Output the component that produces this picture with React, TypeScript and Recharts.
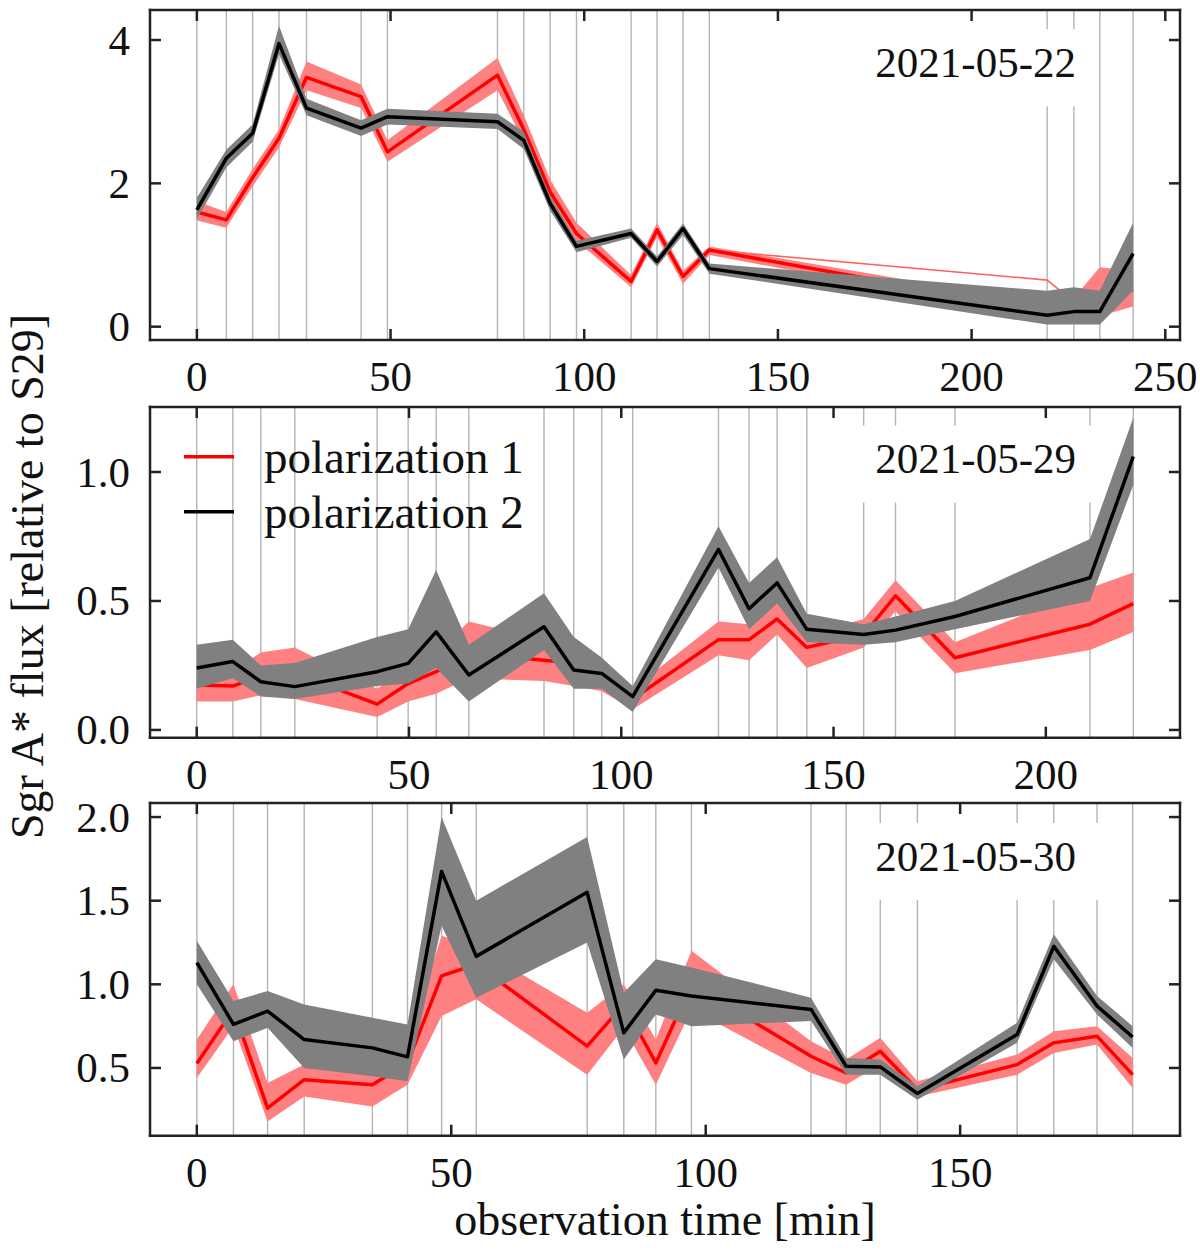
import React from 'react';
import { ComposedChart, Line, Area, XAxis, YAxis, ReferenceLine } from 'recharts';

const FONT = '"Liberation Serif", "Times New Roman", serif';
const RED = '#ff0000';
const RED_BAND = '#ff8080';
const GRAY_BAND = '#808080';
const FRAME = '#222222';
const SCAN = '#b4b4b4';

// 2021-05-22
const t22 = [0, 7.6, 14.4, 21.2, 28.3, 42.4, 49.2, 77.6, 84.4, 91.2, 98.0, 112.1, 118.8, 125.5, 132.3, 219.5, 226.4, 233.1, 241.7];
const pol1_22 = [1.6, 1.49, 2.08, 2.63, 3.48, 3.21, 2.44, 3.51, 2.75, 1.88, 1.3, 0.63, 1.35, 0.7, 1.07, 0.22, 0.25, 0.38, 0.52];
const pol1Lo_22 = [1.48, 1.38, 1.96, 2.5, 3.3, 3.05, 2.3, 3.3, 2.58, 1.75, 1.2, 0.55, 1.25, 0.6, 1.0, 0.12, 0.15, 0.15, 0.28];
const pol1Hi_22 = [1.75, 1.6, 2.2, 2.75, 3.7, 3.38, 2.6, 3.75, 2.95, 2.05, 1.45, 0.72, 1.45, 0.78, 1.12, 0.32, 0.4, 0.83, 0.78];
const pol1Stray_22 = [null, null, null, null, null, null, null, null, null, null, null, null, null, null, 1.07, 0.65, 0.35, null, null];
const pol2_22 = [1.63, 2.35, 2.7, 3.95, 3.05, 2.77, 2.93, 2.86, 2.6, 1.72, 1.12, 1.3, 0.91, 1.37, 0.81, 0.16, 0.21, 0.21, 1.02];
const pol2Lo_22 = [1.5, 2.22, 2.58, 3.8, 2.95, 2.66, 2.82, 2.76, 2.48, 1.62, 1.04, 1.24, 0.84, 1.28, 0.74, 0.03, 0.03, 0.03, 0.5];
const pol2Hi_22 = [1.8, 2.47, 2.82, 4.2, 3.18, 2.88, 3.04, 2.97, 2.72, 1.82, 1.2, 1.37, 0.98, 1.44, 0.88, 0.5, 0.55, 0.5, 1.45];

// 2021-05-29
const t29 = [0, 8.5, 15.1, 23.1, 42.5, 49.8, 56.4, 64.1, 81.8, 88.8, 95.4, 102.7, 122.9, 130.1, 136.7, 143.7, 157.1, 164.6, 178.6, 210.4, 220.6];
const pol1_29 = [0.174, 0.17, 0.21, 0.22, 0.1, 0.18, 0.226, 0.3, 0.27, 0.26, 0.21, 0.12, 0.35, 0.35, 0.43, 0.32, 0.37, 0.52, 0.28, 0.41, 0.49];
const pol1Lo_29 = [0.11, 0.11, 0.135, 0.12, 0.05, 0.11, 0.14, 0.2, 0.19, 0.17, 0.15, 0.08, 0.29, 0.27, 0.37, 0.24, 0.32, 0.46, 0.22, 0.31, 0.38];
const pol1Hi_29 = [0.24, 0.23, 0.3, 0.32, 0.16, 0.25, 0.3, 0.42, 0.35, 0.36, 0.28, 0.16, 0.42, 0.41, 0.5, 0.37, 0.43, 0.58, 0.34, 0.55, 0.61];
const pol2_29 = [0.24, 0.265, 0.187, 0.168, 0.226, 0.258, 0.38, 0.213, 0.4, 0.232, 0.219, 0.129, 0.7, 0.47, 0.57, 0.39, 0.37, 0.387, 0.44, 0.59, 1.06];
const pol2Lo_29 = [0.16, 0.2, 0.13, 0.12, 0.17, 0.18, 0.24, 0.11, 0.31, 0.16, 0.16, 0.07, 0.63, 0.39, 0.49, 0.34, 0.33, 0.34, 0.39, 0.5, 0.95];
const pol2Hi_29 = [0.33, 0.35, 0.25, 0.26, 0.36, 0.39, 0.62, 0.33, 0.53, 0.36, 0.28, 0.17, 0.79, 0.57, 0.67, 0.45, 0.41, 0.44, 0.5, 0.74, 1.21];

// 2021-05-30
const t30 = [0, 7.2, 13.9, 21.1, 34.5, 41.4, 48.1, 54.9, 76.7, 83.9, 90.2, 97.2, 120.7, 127.6, 134.3, 141.6, 161.2, 168.4, 176.9, 183.9];
const pol1_30 = [0.526, 0.85, 0.26, 0.43, 0.4, 0.53, 1.05, 1.12, 0.63, 0.88, 0.53, 1.0, 0.57, 0.47, 0.6, 0.37, 0.52, 0.65, 0.69, 0.46];
const pol1Lo_30 = [0.44, 0.75, 0.18, 0.33, 0.27, 0.4, 0.81, 0.91, 0.46, 0.74, 0.4, 0.85, 0.47, 0.4, 0.52, 0.33, 0.46, 0.59, 0.64, 0.38];
const pol1Hi_30 = [0.67, 1.0, 0.41, 0.52, 0.48, 0.65, 1.29, 1.22, 0.83, 1.0, 0.67, 1.2, 0.66, 0.55, 0.68, 0.42, 0.58, 0.72, 0.75, 0.56];
const pol2_30 = [1.13, 0.76, 0.84, 0.67, 0.62, 0.566, 1.675, 1.167, 1.55, 0.71, 0.964, 0.93, 0.85, 0.51, 0.506, 0.347, 0.7, 1.227, 0.87, 0.685];
const pol2Lo_30 = [1.0, 0.66, 0.74, 0.5, 0.45, 0.42, 1.35, 0.92, 1.25, 0.55, 0.82, 0.75, 0.78, 0.46, 0.46, 0.31, 0.65, 1.15, 0.82, 0.62];
const pol2Hi_30 = [1.26, 0.9, 0.96, 0.88, 0.8, 0.76, 2.0, 1.5, 1.88, 0.95, 1.15, 1.1, 0.92, 0.56, 0.55, 0.39, 0.77, 1.3, 0.93, 0.75];

const xTicks22 = [0, 50, 100, 150, 200, 250];
const xTicks29 = [0, 50, 100, 150, 200];
const xTicks30 = [0, 50, 100, 150];
const yTicks22 = [0, 2, 4];
const yTicks29 = [0, 0.5, 1.0];
const yTicks30 = [0.5, 1.0, 1.5, 2.0];

const dates = ['2021-05-22', '2021-05-29', '2021-05-30'];
const legendLabels = ['polarization 1', 'polarization 2'];
const xLabel = 'observation time [min]';
const yLabel = 'Sgr A* flux [relative to S29]';

const buildRows = (
  t: number[], p1: number[], p1Lo: number[], p1Hi: number[],
  p2: number[], p2Lo: number[], p2Hi: number[], stray?: (number | null)[]
) => t.map((x, i) => ({
  t: x,
  p1: p1[i],
  b1: [p1Lo[i], p1Hi[i]],
  p2: p2[i],
  b2: [p2Lo[i], p2Hi[i]],
  s1: stray ? stray[i] : null,
}));

const rows22 = buildRows(t22, pol1_22, pol1Lo_22, pol1Hi_22, pol2_22, pol2Lo_22, pol2Hi_22, pol1Stray_22);
const rows29 = buildRows(t29, pol1_29, pol1Lo_29, pol1Hi_29, pol2_29, pol2Lo_29, pol2Hi_29);
const rows30 = buildRows(t30, pol1_30, pol1Lo_30, pol1Hi_30, pol2_30, pol2Lo_30, pol2Hi_30);

interface PanelProps {
  top: number;
  height: number;
  bottomH: number;
  rows: any[];
  times: number[];
  xDomain: [number, number];
  xTicks: number[];
  yDomain: [number, number];
  yTicks: number[];
  yFmt: (v: number) => string;
  stray?: boolean;
}

const frame = { stroke: FRAME, strokeWidth: 2.5, strokeLinecap: 'square' as const };

const Panel: React.FC<PanelProps> = ({ top, height, bottomH, rows, times, xDomain, xTicks, yDomain, yTicks, yFmt, stray }) => (
  <div style={{ position: 'absolute', left: 0, top, width: 1200, height }}>
    <ComposedChart width={1200} height={height} data={rows} margin={{ top: 0, right: 0, bottom: 0, left: 0 }}>
      <XAxis
        dataKey="t" type="number" domain={xDomain} ticks={xTicks} allowDataOverflow interval={0}
        height={bottomH} tickSize={0} tickMargin={0} axisLine={frame}
        tick={(p: any) => (
          <g>
            <line x1={p.x} x2={p.x} y1={p.y} y2={p.y - 11} stroke={FRAME} strokeWidth={2.5} />
            <text x={p.x} y={p.y + 51} textAnchor="middle" fontFamily={FONT} fontSize={43} fill="#111">{p.payload.value}</text>
          </g>
        )}
      />
      <XAxis
        xAxisId="top" orientation="top" dataKey="t" type="number" domain={xDomain} ticks={xTicks} allowDataOverflow interval={0}
        height={10} tickSize={0} tickMargin={0} axisLine={frame}
        tick={(p: any) => <line x1={p.x} x2={p.x} y1={p.y} y2={p.y + 11} stroke={FRAME} strokeWidth={2.5} />}
      />
      <YAxis
        type="number" domain={yDomain} ticks={yTicks} allowDataOverflow interval={0}
        width={150} tickSize={0} tickMargin={0} axisLine={frame}
        tick={(p: any) => (
          <g>
            <line x1={p.x} x2={p.x + 11} y1={p.y} y2={p.y} stroke={FRAME} strokeWidth={2.5} />
            <text x={p.x - 20} y={p.y + 14.5} textAnchor="end" fontFamily={FONT} fontSize={43} fill="#111">{yFmt(p.payload.value)}</text>
          </g>
        )}
      />
      <YAxis
        yAxisId="right" orientation="right" type="number" domain={yDomain} ticks={yTicks} allowDataOverflow interval={0}
        width={20} tickSize={0} tickMargin={0} axisLine={frame}
        tick={(p: any) => <line x1={p.x} x2={p.x - 11} y1={p.y} y2={p.y} stroke={FRAME} strokeWidth={2.5} />}
      />
      {times.map((t) => (
        <ReferenceLine key={t} x={t} stroke={SCAN} strokeWidth={1.4} zIndex={-10} />
      ))}
      <Area dataKey="b1" type="linear" stroke="none" fill={RED_BAND} fillOpacity={1} isAnimationActive={false} zIndex={100} activeDot={false} />
      {stray && (
        <Line dataKey="s1" type="linear" stroke="#ff6060" strokeWidth={1.6} dot={false} activeDot={false} isAnimationActive={false} zIndex={105} />
      )}
      <Line dataKey="p1" type="linear" stroke={RED} strokeWidth={3.5} strokeLinejoin="round" dot={false} activeDot={false} isAnimationActive={false} zIndex={110} />
      <Area dataKey="b2" type="linear" stroke="none" fill={GRAY_BAND} fillOpacity={1} isAnimationActive={false} zIndex={120} activeDot={false} />
      <Line dataKey="p2" type="linear" stroke="#000" strokeWidth={3.5} strokeLinejoin="round" dot={false} activeDot={false} isAnimationActive={false} zIndex={130} />
    </ComposedChart>
  </div>
);

const dateBaselines = [77, 473.3, 870.7];

export default function App() {
  return (
    <div style={{ position: 'absolute', left: 0, top: 0, width: 1200, height: 1258, background: '#fff', overflow: 'hidden' }}>
      <Panel top={0} height={415} bottomH={75} rows={rows22} times={t22}
        xDomain={[-12.1, 253.8]} xTicks={xTicks22} yDomain={[-0.186, 4.419]} yTicks={yTicks22}
        yFmt={(v) => String(v)} stray />
      <Panel top={397.3} height={415.7} bottomH={75} rows={rows29} times={t29}
        xDomain={[-11.0, 231.6]} xTicks={xTicks29} yDomain={[-0.03, 1.252]} yTicks={yTicks29}
        yFmt={(v) => v.toFixed(1)} />
      <Panel top={793.3} height={464.7} bottomH={122} rows={rows30} times={t30}
        xDomain={[-9.2, 193.2]} xTicks={xTicks30} yDomain={[0.095, 2.084]} yTicks={yTicks30}
        yFmt={(v) => v.toFixed(1)} />
      <svg width={1200} height={1258} style={{ position: 'absolute', left: 0, top: 0, pointerEvents: 'none' }}>
        {dates.map((d, i) => (
          <g key={d}>
            <rect x={851} y={dateBaselines[i] - 47.7} width={247} height={77} fill="#fff" />
            <text x={1076} y={dateBaselines[i]} textAnchor="end" fontFamily={FONT} fontSize={43} fill="#111">{d}</text>
          </g>
        ))}
        <line x1={184} x2={234} y1={456.7} y2={456.7} stroke={RED} strokeWidth={3.5} />
        <text x={264} y={473} fontFamily={FONT} fontSize={47} fill="#111">{legendLabels[0]}</text>
        <line x1={184} x2={234} y1={511.7} y2={511.7} stroke="#000" strokeWidth={3.5} />
        <text x={264} y={528} fontFamily={FONT} fontSize={47} fill="#111">{legendLabels[1]}</text>
        <text x={665} y={1235} textAnchor="middle" fontFamily={FONT} fontSize={46} fill="#111">{xLabel}</text>
        <text transform="translate(43, 576.5) rotate(-90)" textAnchor="middle" fontFamily={FONT} fontSize={46} fill="#111">{yLabel}</text>
      </svg>
    </div>
  );
}
